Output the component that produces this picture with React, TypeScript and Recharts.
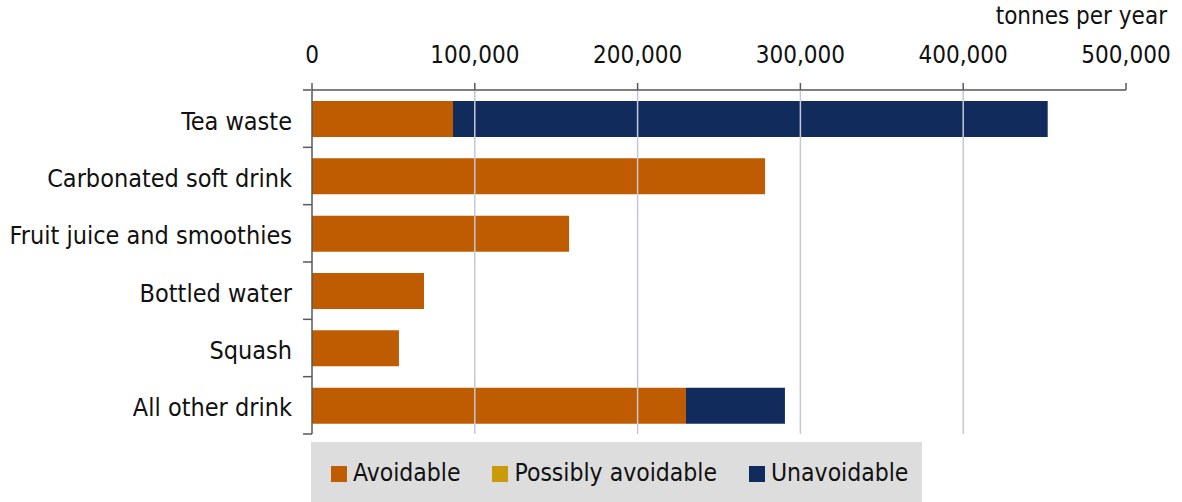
import React from 'react';
import { BarChart, Bar, XAxis, YAxis, ReferenceLine, Legend } from 'recharts';

const categories = ['Tea waste', 'Carbonated soft drink', 'Fruit juice and smoothies', 'Bottled water', 'Squash', 'All other drink'];
const avoidable = [86600, 278300, 157900, 68800, 53400, 229700];
const possiblyAvoidable = [0, 0, 0, 0, 0, 0];
const unavoidable = [365300, 0, 0, 0, 0, 60800];
const xTicks = [0, 100000, 200000, 300000, 400000, 500000];
const gridTicks = [100000, 200000, 300000, 400000];

const COLORS = { avoidable: '#bf5b00', possibly: '#c99a0a', unavoidable: '#112b5c' };
const FONT = "'DejaVu Sans Condensed', 'DejaVu Sans', sans-serif";

const data = categories.map((name, i) => ({
    name,
    avoidable: avoidable[i],
    possibly: possiblyAvoidable[i],
    unavoidable: unavoidable[i],
}));

// y-axis: labels at band centre, tick marks on the band boundaries
const CategoryTick = (props: any) => {
    const { x, y, payload, index } = props;
    const half = payload.offset || 0;
    return (
        <g>
            <text x={x} y={y} dy={11} textAnchor="end" fill="#111" fontSize={25} fontFamily={FONT} style={{ fontStretch: 'condensed' }}>
                {payload.value}
            </text>
            {index === 0 && <line x1={x + 11} x2={x + 20} y1={y - half} y2={y - half} stroke="#7f7f7f" strokeWidth={2} />}
            <line x1={x + 11} x2={x + 20} y1={y + half} y2={y + half} stroke="#595959" strokeWidth={1.5} />
        </g>
    );
};

const UnitLabel = (props: any) => {
    const { viewBox } = props;
    return (
        <text x={viewBox.x + viewBox.width + 41} y={viewBox.y - 6} textAnchor="end" fill="#111" fontSize={24} fontFamily={FONT} style={{ fontStretch: 'condensed' }}>
            tonnes per year
        </text>
    );
};

const LegendBox = (props: any) => {
    const items = props.payload || [];
    return (
        <div style={{ display: 'flex', alignItems: 'center', gap: 32, height: 60, paddingLeft: 20, background: '#dddddd', fontFamily: FONT, fontStretch: 'condensed', fontSize: 24.5, color: '#111', boxSizing: 'border-box' }}>
            {items.map((it: any) => (
                <div key={it.value} style={{ display: 'flex', alignItems: 'center', gap: 6 }}>
                    <span style={{ width: 16, height: 16, background: it.color, display: 'inline-block', marginTop: 4 }} />
                    <span>{it.value}</span>
                </div>
            ))}
        </div>
    );
};

const App: React.FC = () => {
    return (
        <div style={{ position: 'absolute', left: 0, top: 0, background: '#fff' }}>
            <BarChart width={1182} height={502} data={data} layout="vertical"
                      margin={{ top: 30, right: 56, bottom: 8, left: 0 }} barSize={36}>
                {gridTicks.map(v => (
                    <ReferenceLine key={v} x={v} stroke="#c3c9d6" strokeWidth={1.5} />
                ))}
                <XAxis type="number" orientation="top" domain={[0, 500000]} ticks={xTicks} height={60}
                       tickFormatter={(v: number) => v.toLocaleString('en-US')}
                       tick={{ fontSize: 24, fill: '#111', fontFamily: FONT, style: { fontStretch: 'condensed' } }}
                       tickSize={7} tickMargin={20}
                       axisLine={{ stroke: '#7f7f7f', strokeWidth: 2 }} tickLine={{ stroke: '#595959', strokeWidth: 1.5 }}
                       label={<UnitLabel />} />
                <YAxis type="category" dataKey="name" width={312} tick={<CategoryTick />}
                       tickSize={9} tickMargin={11} tickLine={false}
                       axisLine={{ stroke: '#595959', strokeWidth: 1.5 }} interval={0} />
                <Legend verticalAlign="bottom" content={<LegendBox />}
                        wrapperStyle={{ left: 311, bottom: 0, width: 611, height: 60 }} />
                <Bar dataKey="avoidable" name="Avoidable" stackId="a" fill={COLORS.avoidable} isAnimationActive={false} legendType="square" />
                <Bar dataKey="possibly" name="Possibly avoidable" stackId="a" fill={COLORS.possibly} isAnimationActive={false} legendType="square" />
                <Bar dataKey="unavoidable" name="Unavoidable" stackId="a" fill={COLORS.unavoidable} isAnimationActive={false} legendType="square" />
            </BarChart>
        </div>
    );
};

export default App;
